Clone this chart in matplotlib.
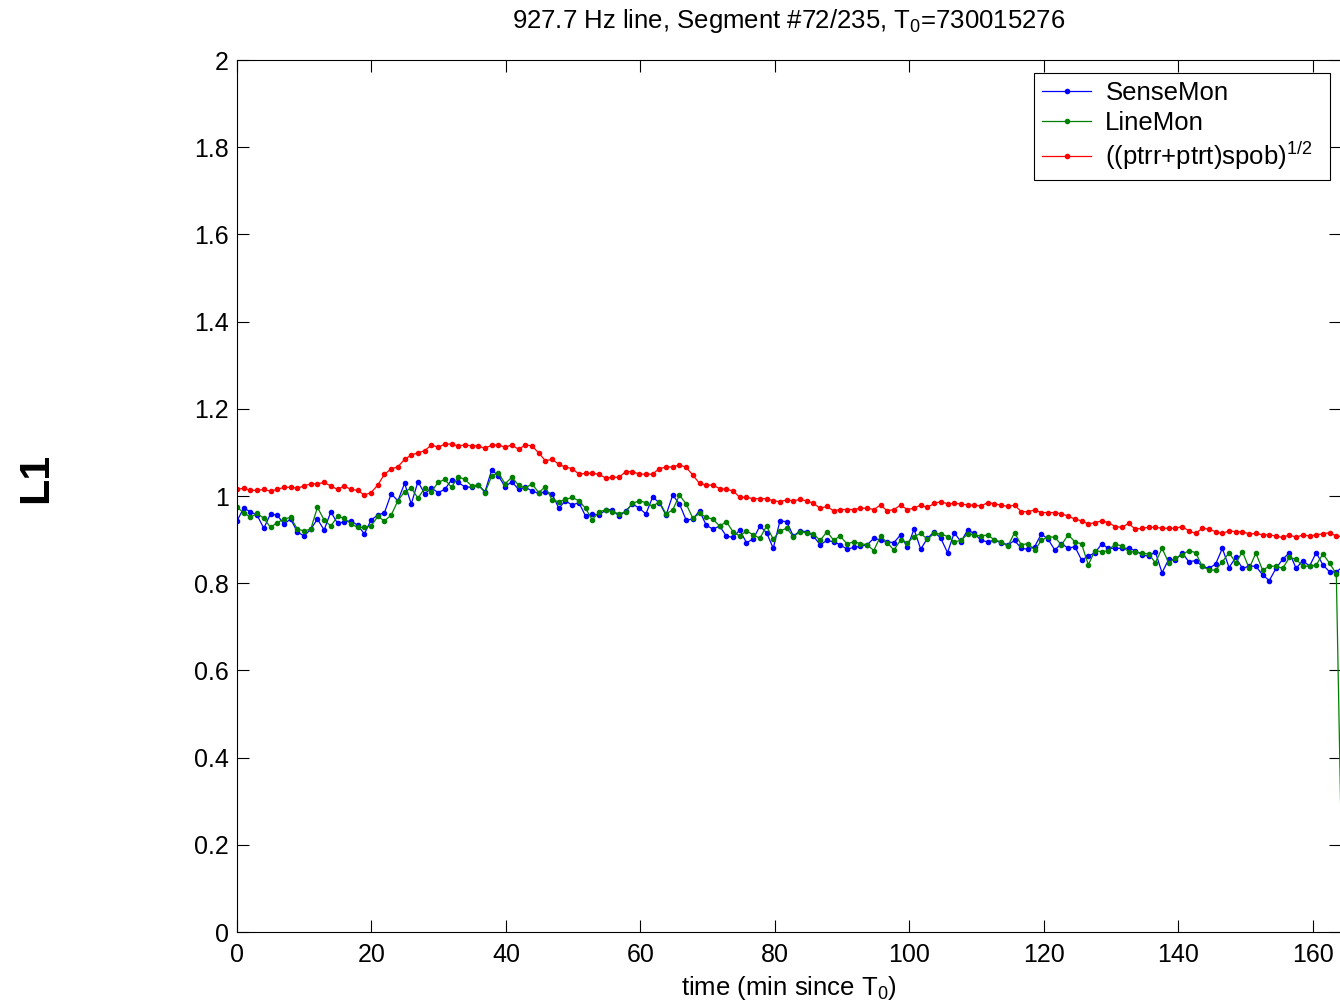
import matplotlib
matplotlib.use('Agg')
import matplotlib.pyplot as plt
import numpy as np

plt.rcParams['font.family'] = ['Liberation Sans', 'DejaVu Sans']
plt.rcParams['mathtext.fontset'] = 'custom'
plt.rcParams['mathtext.rm'] = 'Liberation Sans'
plt.rcParams['mathtext.it'] = 'Liberation Sans'

title = '927.7 Hz line, Segment #72/235, T$_0$=730015276'
labels = ['SenseMon', 'LineMon', '((ptrr+ptrt)spob)$^{1/2}$  ']
colors = ['#0000ff', '#008000', '#ff0000']
t_end = 164.5
x_max = 164.2

sensemon = [0.943, 0.972, 0.964, 0.956, 0.926, 0.959, 0.956, 0.936, 0.947, 0.918, 0.908, 0.924, 0.947, 0.922,
            0.964, 0.937, 0.941, 0.943, 0.933, 0.913, 0.945, 0.956, 0.962, 1.005, 0.989, 1.029, 0.982, 1.033,
            1.005, 1.018, 1.008, 1.015, 1.037, 1.031, 1.021, 1.020, 1.025, 1.010, 1.060, 1.046, 1.021, 1.033,
            1.015, 1.020, 1.012, 1.006, 1.010, 1.005, 0.972, 0.989, 0.979, 0.985, 0.954, 0.959, 0.956, 0.968,
            0.969, 0.953, 0.966, 0.982, 0.972, 0.959, 0.997, 0.985, 0.956, 1.002, 0.982, 0.945, 0.947, 0.966,
            0.933, 0.924, 0.931, 0.908, 0.905, 0.922, 0.893, 0.901, 0.931, 0.916, 0.880, 0.943, 0.941, 0.908,
            0.920, 0.918, 0.908, 0.888, 0.898, 0.895, 0.888, 0.878, 0.882, 0.885, 0.888, 0.903, 0.899, 0.895,
            0.893, 0.911, 0.882, 0.924, 0.878, 0.903, 0.918, 0.903, 0.870, 0.916, 0.895, 0.922, 0.914,
            0.898, 0.895, 0.898, 0.893, 0.888, 0.898, 0.880, 0.878, 0.884, 0.913, 0.901, 0.876, 0.891, 0.880,
            0.884, 0.853, 0.862, 0.870, 0.890, 0.880, 0.880, 0.880, 0.880, 0.875, 0.865, 0.862, 0.872, 0.824,
            0.855, 0.853, 0.870, 0.849, 0.852, 0.839, 0.834, 0.844, 0.880, 0.836, 0.859, 0.834, 0.839, 0.839,
            0.819, 0.806, 0.834, 0.855, 0.870, 0.834, 0.852, 0.839, 0.870, 0.842, 0.826, 0.826, 0.838]

linemon = [0.974, 0.962, 0.951, 0.960, 0.949, 0.928, 0.939, 0.947, 0.951, 0.924, 0.920, 0.924, 0.974, 0.945,
           0.931, 0.953, 0.949, 0.936, 0.928, 0.928, 0.931, 0.953, 0.943, 0.956, 0.989, 1.010, 1.018, 0.995,
           1.018, 1.010, 1.031, 1.038, 1.020, 1.044, 1.038, 1.023, 1.025, 1.008, 1.046, 1.053, 1.028, 1.043,
           1.025, 1.018, 1.028, 1.008, 1.021, 0.991, 0.987, 0.992, 0.997, 0.989, 0.972, 0.945, 0.964, 0.968,
           0.964, 0.959, 0.964, 0.983, 0.989, 0.985, 0.976, 0.987, 0.959, 0.968, 1.002, 0.982, 0.949, 0.960,
           0.951, 0.947, 0.931, 0.941, 0.918, 0.908, 0.920, 0.911, 0.903, 0.931, 0.901, 0.920, 0.926, 0.907,
           0.918, 0.916, 0.913, 0.898, 0.918, 0.899, 0.908, 0.890, 0.895, 0.891, 0.888, 0.875, 0.908, 0.893,
           0.876, 0.899, 0.893, 0.907, 0.914, 0.901, 0.914, 0.913, 0.907, 0.895, 0.898, 0.913, 0.911,
           0.908, 0.911, 0.899, 0.895, 0.885, 0.916, 0.888, 0.891, 0.876, 0.898, 0.907, 0.905, 0.888, 0.911,
           0.895, 0.890, 0.842, 0.875, 0.872, 0.875, 0.890, 0.885, 0.872, 0.872, 0.869, 0.867, 0.847, 0.880,
           0.847, 0.857, 0.865, 0.875, 0.870, 0.839, 0.830, 0.830, 0.849, 0.870, 0.847, 0.872, 0.834, 0.869,
           0.830, 0.839, 0.839, 0.834, 0.859, 0.855, 0.839, 0.839, 0.842, 0.867, 0.846, 0.821, 0.0]

ptrr_spob = [1.015, 1.018, 1.013, 1.013, 1.015, 1.011, 1.015, 1.020, 1.020, 1.018, 1.023, 1.028, 1.028, 1.031,
             1.023, 1.015, 1.023, 1.015, 1.013, 1.002, 1.008, 1.025, 1.050, 1.062, 1.067, 1.084, 1.094, 1.099,
             1.104, 1.117, 1.112, 1.119, 1.119, 1.115, 1.117, 1.115, 1.115, 1.109, 1.117, 1.117, 1.112, 1.117,
             1.107, 1.117, 1.115, 1.099, 1.081, 1.084, 1.073, 1.066, 1.063, 1.050, 1.052, 1.052, 1.050, 1.041,
             1.043, 1.043, 1.056, 1.056, 1.050, 1.050, 1.050, 1.063, 1.066, 1.067, 1.071, 1.066, 1.048, 1.029,
             1.025, 1.025, 1.017, 1.015, 1.012, 0.997, 0.997, 0.994, 0.994, 0.994, 0.989, 0.987, 0.991, 0.989,
             0.992, 0.989, 0.983, 0.972, 0.976, 0.966, 0.969, 0.969, 0.969, 0.972, 0.972, 0.969, 0.979, 0.966,
             0.969, 0.979, 0.969, 0.972, 0.979, 0.974, 0.983, 0.987, 0.982, 0.983, 0.982, 0.979, 0.979,
             0.977, 0.985, 0.982, 0.979, 0.976, 0.979, 0.964, 0.964, 0.968, 0.962, 0.962, 0.962, 0.959, 0.954,
             0.947, 0.943, 0.936, 0.939, 0.943, 0.939, 0.930, 0.928, 0.937, 0.924, 0.926, 0.928, 0.928, 0.926,
             0.926, 0.926, 0.930, 0.920, 0.914, 0.926, 0.924, 0.918, 0.914, 0.920, 0.918, 0.918, 0.913, 0.914,
             0.911, 0.911, 0.908, 0.905, 0.911, 0.905, 0.911, 0.908, 0.911, 0.913, 0.916, 0.908, 0.907]

n = len(sensemon)
t = np.arange(n) * (t_end / (n - 1))  # one sample per ~minute

fig = plt.figure(figsize=(13.4, 10.08), dpi=100)
# axes run to the right edge of the picture (the original is cropped there)
ax = fig.add_axes([237 / 1340, 76 / 1008, 1104 / 1340, 872 / 1008])

for vals, c, lab in zip([sensemon, linemon, ptrr_spob], colors, labels):
    ax.plot(t, vals, '-', color=c, marker='.', markersize=6, linewidth=0.9, label=lab)

ax.set_xlim(0, x_max)
ax.set_ylim(0, 2)
ax.set_xticks(np.arange(0, 161, 20))
ax.set_yticks(np.arange(0, 2.01, 0.2))
ax.set_yticklabels(['%g' % v for v in np.round(np.arange(0, 2.01, 0.2), 1)])
ax.tick_params(direction='in', length=8.5, width=0.8, top=True, right=True, labelsize=18)
ax.tick_params(axis='y', pad=6)
ax.tick_params(axis='x', pad=8)
for s in ax.spines.values():
    s.set_linewidth(0.8)

ax.set_title(title, fontsize=18.5, pad=23)
ax.set_xlabel('time (min since T$_0$)', fontsize=18.5, labelpad=5)
fig.text(36 / 1340, 1 - 478 / 1008, 'L1', rotation=90, fontsize=31, fontweight='bold',
         ha='center', va='center')

leg = ax.legend(loc='upper right', bbox_to_anchor=(1 - 11 / 1104, 1 - 13 / 872), fontsize=18.5,
                fancybox=False, framealpha=1, edgecolor='black', borderpad=0.33, labelspacing=0.2,
                handlelength=1.9, handletextpad=0.55, borderaxespad=0)
leg.get_frame().set_linewidth(0.8)

plt.savefig('out.png', dpi=100)
